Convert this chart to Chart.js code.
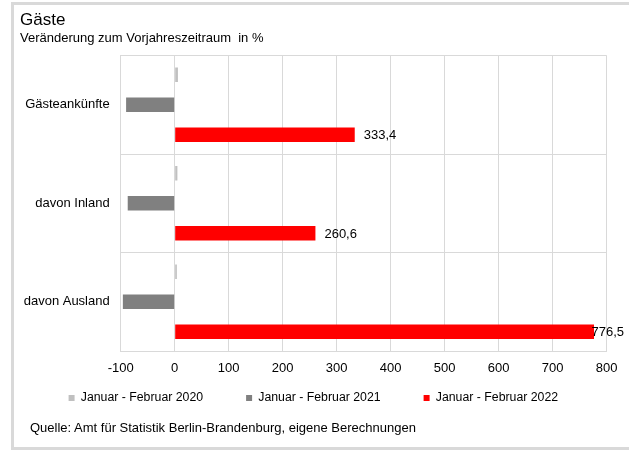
<!DOCTYPE html>
<html><head><meta charset="utf-8">
<script src="https://cdn.jsdelivr.net/npm/chart.js@4.4.1/dist/chart.umd.min.js"></script>
<style>
html,body{margin:0;padding:0;background:#fff;width:629px;height:454px;overflow:hidden;}
#frame{position:absolute;left:11px;top:2px;width:700px;height:448px;box-sizing:border-box;border:3px solid #d9d9d9;}
#wrap{position:absolute;left:0;top:0;width:629px;height:454px;}
#source{position:absolute;left:30px;top:420px;font:13px "Liberation Sans",Arial,sans-serif;line-height:16px;color:#000;white-space:nowrap;}
</style></head><body>
<div id="frame"></div>
<div id="wrap"><canvas id="c" width="629" height="454"></canvas></div>
<div id="source">Quelle: Amt für Statistik Berlin-Brandenburg, eigene Berechnungen</div>
<script>
const titleText = 'Gäste';
const subtitleText = 'Veränderung zum Vorjahreszeitraum  in %';
const categories = ['Gästeankünfte', 'davon Inland', 'davon Ausland'];
const seriesNames = ['Januar - Februar 2020', 'Januar - Februar 2021', 'Januar - Februar 2022'];
const values2020 = [6, 5, 4];
const values2021 = [-90, -87, -96];
const values2022 = [333.4, 260.6, 776.5];
const xTicks = [-100, 0, 100, 200, 300, 400, 500, 600, 700, 800];
const seriesColors = ['#c0c0c0', '#808080', '#ff0000'];

const FONT = '"Liberation Sans", Arial, sans-serif';
const PLOT_LEFT = 120.7, PLOT_RIGHT = 606.7, PLOT_BOTTOM = 351;
const LEGEND_PAD = 43;
const LEGEND_FONT = 12.3;
const LEGEND_TEXT_Y = 398;
const X_AXIS_H = 25;
const LEGEND_H = LEGEND_FONT + LEGEND_PAD + 10;

const dataLabelPlugin = {
  id: 'dataLabels',
  afterDatasetsDraw(chart) {
    const ctx = chart.ctx;
    const meta = chart.getDatasetMeta(2);
    ctx.save();
    ctx.font = '13px ' + FONT;
    ctx.fillStyle = '#000';
    ctx.textBaseline = 'middle';
    ctx.textAlign = 'left';
    meta.data.forEach((bar, i) => {
      const txt = values2022[i].toFixed(1).replace('.', ',');
      const w = ctx.measureText(txt).width;
      let x = bar.x + 9;
      const maxRight = chart.width - 5;
      if (x + w > maxRight) x = maxRight - w;
      ctx.fillText(txt, x, bar.y + 1);
    });
    ctx.restore();
  }
};

const legendShiftPlugin = {
  id: 'legendShift',
  afterLayout(chart) {
    const lg = chart.legend;
    if (!lg) return;
    const target = LEGEND_TEXT_Y - LEGEND_PAD - LEGEND_FONT / 2;
    const d = lg.top - target;
    lg.top -= d;
    lg.bottom -= d;
  }
};

new Chart(document.getElementById('c'), {
  type: 'bar',
  data: {
    labels: categories,
    datasets: [
      { label: seriesNames[0], data: values2020, backgroundColor: seriesColors[0] },
      { label: seriesNames[1], data: values2021, backgroundColor: seriesColors[1] },
      { label: seriesNames[2], data: values2022, backgroundColor: seriesColors[2] }
    ]
  },
  options: {
    indexAxis: 'y',
    responsive: false,
    animation: false,
    devicePixelRatio: 1,
    datasets: { bar: { categoryPercentage: 0.914, barPercentage: 0.483 } },
    layout: { padding: { left: 20, right: 629 - PLOT_RIGHT, top: 2, bottom: 454 - PLOT_BOTTOM - X_AXIS_H - LEGEND_H } },
    scales: {
      x: {
        type: 'linear',
        min: xTicks[0],
        max: xTicks[xTicks.length - 1],
        afterBuildTicks(scale) { scale.ticks = xTicks.map(v => ({ value: v })); },
        ticks: { font: { size: 13, family: FONT }, color: '#000', padding: 10, autoSkip: false, maxRotation: 0 },
        grid: { color: '#d9d9d9', lineWidth: 1, drawTicks: false },
        border: { color: '#d9d9d9' },
        afterFit(scale) { scale.height = X_AXIS_H; }
      },
      y: {
        ticks: { font: { size: 13, family: FONT }, color: '#000', padding: 11 },
        grid: { color: '#d9d9d9', lineWidth: 1, drawTicks: false, offset: true },
        border: { color: '#d9d9d9' },
        afterFit(scale) { scale.width = PLOT_LEFT - 20; }
      }
    },
    plugins: {
      title: {
        display: true, text: titleText, align: 'start', color: '#000',
        font: { size: 17, family: FONT, weight: 'normal', lineHeight: 1 },
        padding: { top: 10.3, bottom: 1 }
      },
      subtitle: {
        display: true, text: subtitleText, align: 'start', color: '#000',
        font: { size: 13, family: FONT, weight: 'normal', lineHeight: 1 },
        padding: { top: 1.2, bottom: 11 }
      },
      legend: {
        position: 'bottom',
        labels: {
          boxWidth: 6, boxHeight: 6, padding: LEGEND_PAD, color: '#000',
          font: { size: LEGEND_FONT, family: FONT }
        }
      },
      tooltip: { enabled: false }
    }
  },
  plugins: [dataLabelPlugin, legendShiftPlugin]
});
</script>
</body></html>
